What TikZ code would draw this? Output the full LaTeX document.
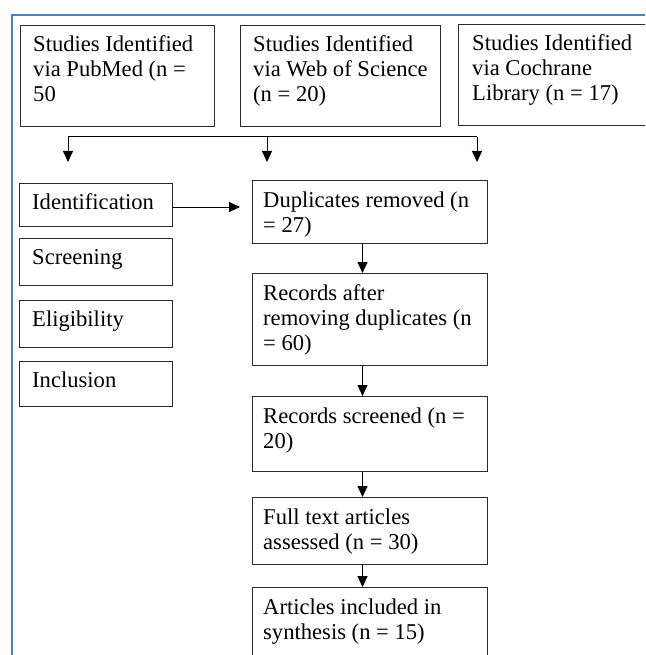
\documentclass[tikz,border=0pt]{standalone}
\usepackage{fontspec}
\setmainfont{Liberation Serif}
\usetikzlibrary{arrows.meta}
\definecolor{frameblue}{HTML}{4F81BD}
\definecolor{boxline}{HTML}{2B2B2B}
\begin{document}
\begin{tikzpicture}[x=1pt,y=-1pt,
  box/.style={draw=boxline, line width=1pt, anchor=north west, inner sep=0pt},
  lbl/.style={anchor=base west, inner sep=0pt, font=\fontsize{22.6}{25}\selectfont},
  conn/.style={draw=black, line width=1pt},
  arr/.style={conn, -{Triangle[length=11pt,width=10pt]}},
  frame/.style={draw=frameblue, line width=2.2pt}]
\useasboundingbox (0,0) rectangle (645,655);
\clip (0,0) rectangle (645,655);
\draw[frame] (12,670) -- (12,15) -- (660,15);
% source boxes
\node[box, minimum width=194pt, minimum height=101pt] (pub) at (20,25) {};
\node[lbl] (pubt) at ([shift={(13,27)}]pub.north west) {\parbox[t]{190pt}{\raggedright Studies Identified\\via PubMed (n =\\50}};
\node[box, minimum width=200pt, minimum height=101pt] (wos) at (240,25) {};
\node[lbl] (wost) at ([shift={(13,27)}]wos.north west) {\parbox[t]{200pt}{\raggedright Studies Identified\\via Web of Science\\(n = 20)}};
\node[box, minimum width=230pt, minimum height=101pt] (coc) at (458,24) {};
\node[lbl] (coct) at ([shift={(14,27)}]coc.north west) {\parbox[t]{200pt}{\raggedright Studies Identified\\via Cochrane\\Library (n = 17)}};
% stage boxes
\node[box, minimum width=153pt, minimum height=43pt] (ide) at (19,183) {};
\node[lbl] (idet) at ([shift={(13,26)}]ide.north west) {Identification};
\node[box, minimum width=153pt, minimum height=47pt] (scr) at (19,238) {};
\node[lbl] (scrt) at ([shift={(13,26)}]scr.north west) {Screening};
\node[box, minimum width=153pt, minimum height=47pt] (eli) at (19,300) {};
\node[lbl] (elit) at ([shift={(13,26)}]eli.north west) {Eligibility};
\node[box, minimum width=153pt, minimum height=45pt] (inc) at (19,361) {};
\node[lbl] (inct) at ([shift={(13,26)}]inc.north west) {Inclusion};
% flow boxes
\node[box, minimum width=235pt, minimum height=63pt] (dup) at (252,180) {};
\node[lbl] (dupt) at ([shift={(11,27)}]dup.north west) {\parbox[t]{225pt}{\raggedright Duplicates removed (n\\= 27)}};
\node[box, minimum width=235pt, minimum height=92pt] (rec) at (252,273) {};
\node[lbl] (rect) at ([shift={(11,27)}]rec.north west) {\parbox[t]{225pt}{\raggedright Records after\\removing duplicates (n\\= 60)}};
\node[box, minimum width=235pt, minimum height=75pt] (scn) at (252,396) {};
\node[lbl] (scnt) at ([shift={(11,27)}]scn.north west) {\parbox[t]{225pt}{\raggedright Records screened (n =\\20)}};
\node[box, minimum width=235pt, minimum height=67pt] (ful) at (252,497) {};
\node[lbl] (fult) at ([shift={(11,27)}]ful.north west) {\parbox[t]{225pt}{\raggedright Full text articles\\assessed (n = 30)}};
\node[box, minimum width=235pt, minimum height=100pt] (art) at (252,587) {};
\node[lbl] (artt) at ([shift={(11,27)}]art.north west) {\parbox[t]{225pt}{\raggedright Articles included in\\synthesis (n = 15)}};
% top distribution
\coordinate (hl) at (68,137);
\coordinate (hm) at (267,137);
\coordinate (hr) at (477,137);
\coordinate (tl) at (68,162);
\coordinate (tm) at (267,162);
\coordinate (tr) at (477,162);
\draw[conn] (hl) -- (hr);
\draw[arr] (hl) -- (tl);
\draw[arr] (hm) -- (tm);
\draw[arr] (hr) -- (tr);
% identification arrow
\coordinate (idend) at (240,207);
\draw[arr] (ide.east |- idend) -- (idend);
% vertical flow arrows
\draw[arr] ([xshift=-7.5pt]dup.south) -- ([xshift=-7.5pt]rec.north);
\draw[arr] ([xshift=-7.5pt]rec.south) -- ([xshift=-7.5pt]scn.north);
\draw[arr] ([xshift=-7.5pt]scn.south) -- ([xshift=-7.5pt]ful.north);
\draw[arr] ([xshift=-7.5pt]ful.south) -- ([xshift=-7.5pt]art.north);
\end{tikzpicture}
\end{document}
